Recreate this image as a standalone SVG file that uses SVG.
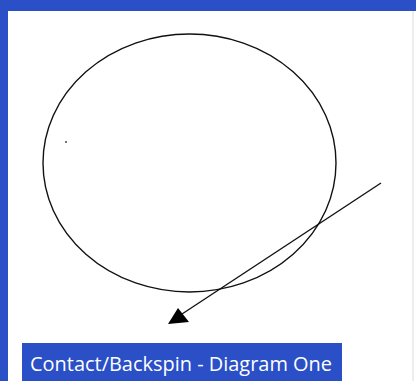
<svg xmlns="http://www.w3.org/2000/svg" width="416" height="381" viewBox="0 0 416 381">
<style>
.band{fill:#2a4fc6}
.lbl{font-family:"Open Sans","Liberation Sans",sans-serif;font-size:20px;fill:#ffffff}
.stroke{fill:none;stroke:#111;stroke-width:1.4}
</style>
<rect width="416" height="381" fill="#ffffff"/>
<rect class="band" x="0" y="0" width="416" height="11"/>
<rect class="band" x="0" y="0" width="8" height="381"/>
<line x1="413" y1="11" x2="413" y2="381" stroke="#f0eeea" stroke-width="2"/>
<g id="ball">
<ellipse class="stroke" cx="189.5" cy="163" rx="146.5" ry="129"/>
</g>
<circle cx="66" cy="142" r="0.9" fill="#333"/>
<g id="connectors">
<line class="stroke" x1="381" y1="183" x2="182" y2="314"/>
<polygon points="168,324 189,322 178,308" fill="#000"/>
</g>
<g id="label">
<rect class="band" x="22" y="343" width="320" height="38"/>
<text class="lbl" x="30" y="371" textLength="302" lengthAdjust="spacingAndGlyphs">Contact/Backspin - Diagram One</text>
</g>
</svg>
